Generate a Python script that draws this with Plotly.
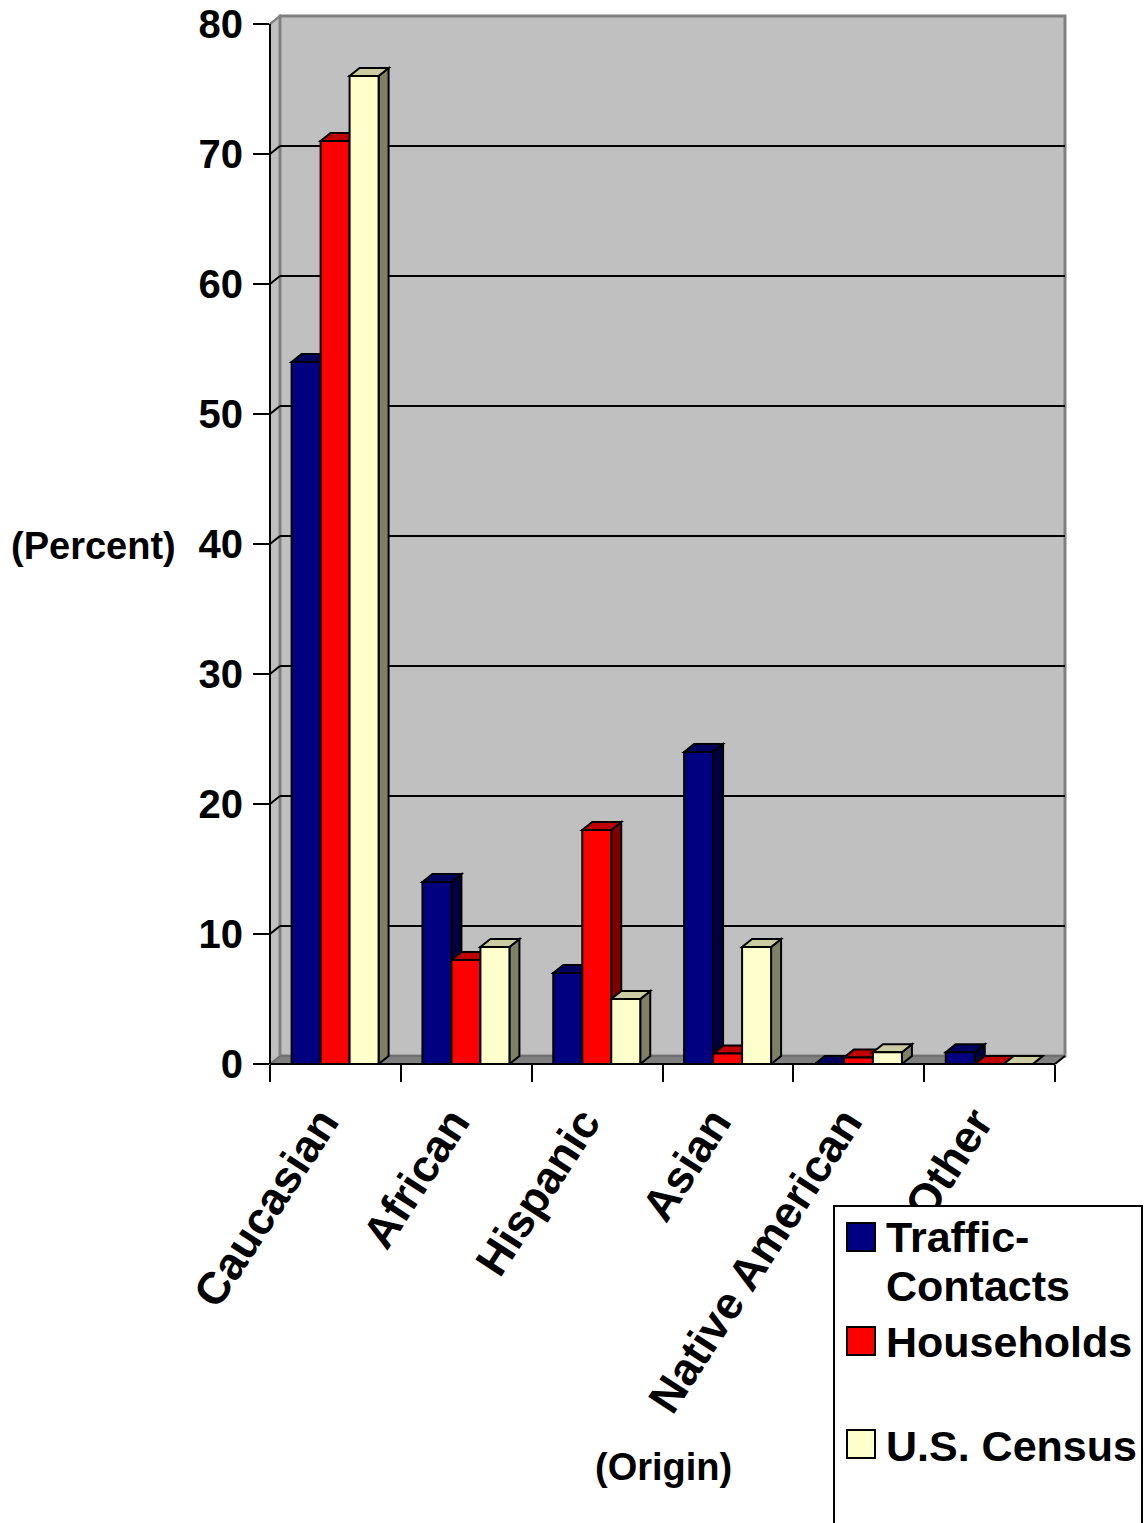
import plotly.graph_objects as go

# ---------------- data ----------------
categories = ["Caucasian", "African", "Hispanic", "Asian", "Native American", "Other"]
traffic_contacts = [54, 14, 7, 24, 0, 0.9]
households = [71, 8, 18, 0.8, 0.5, 0]
us_census = [76, 9, 5, 9, 0.9, 0]
series_names = ["Traffic-Contacts", "Households", "U.S. Census"]
y_tick_values = [0, 10, 20, 30, 40, 50, 60, 70, 80]
y_title = "(Percent)"
x_title = "(Origin)"

# ---------------- styling / geometry ----------------
FONT = "Arial, 'Liberation Sans', Helvetica, sans-serif"
W_PX, H_PX = 1144, 1523
L, R, T, B = 270, 79, 16, 459
PLOT_W = W_PX - L - R
PLOT_H = H_PX - T - B
CAT_PX = 785 / 6.0
PCT_PX = 1040 / 80.0
DX = 10 / CAT_PX          # 3D depth (x, data units)
DY = 8 / PCT_PX           # 3D depth (y, data units)
BAR_W = 29 / CAT_PX
OFF0 = -0.335
LABEL_SHIFT = -14 / CAT_PX
YMAX = 80
X_RANGE = [-0.5, len(categories) - 0.5 + DX]
Y_RANGE = [0, YMAX + DY]

front_colors = ["#000080", "#FF0000", "#FFFFCC"]
side_colors = ["#000040", "#800000", "#808066"]
top_colors = ["#00005E", "#C00000", "#CCCCA3"]
WALL = "#C0C0C0"
EDGE = "#808080"


def xp(x):  # data x -> paper
    return (x - X_RANGE[0]) / (X_RANGE[1] - X_RANGE[0])


def yp(y):  # data y -> paper
    return (y - Y_RANGE[0]) / (Y_RANGE[1] - Y_RANGE[0])


def pxx(px):  # pixel x -> paper
    return (px - L) / PLOT_W


def pxy(py):  # pixel y -> paper
    return (H_PX - B - py) / PLOT_H


def path(points):
    return "M " + " L ".join(f"{x},{y}" for x, y in points) + " Z"


series_values = [traffic_contacts, households, us_census]
x0 = X_RANGE[0]
x1 = len(categories) - 0.5

shapes = []
# side wall (paper coords, avoids clipping)
shapes.append(dict(type="path", xref="paper", yref="paper", layer="below",
                   path=path([(xp(x0), yp(0)), (xp(x0), yp(YMAX)), (xp(x0 + DX), yp(YMAX + DY)),
                              (xp(x0 + DX), yp(DY))]),
                   fillcolor=WALL, line=dict(color=EDGE, width=2)))
# back wall
shapes.append(dict(type="rect", xref="paper", yref="paper", layer="below",
                   x0=xp(x0 + DX), x1=xp(x1 + DX), y0=yp(DY), y1=yp(YMAX + DY),
                   fillcolor=WALL, line=dict(color=EDGE, width=3)))
# floor
shapes.append(dict(type="path", xref="paper", yref="paper", layer="below",
                   path=path([(xp(x0), yp(0)), (xp(x1), yp(0)), (xp(x1 + DX), yp(DY)),
                              (xp(x0 + DX), yp(DY))]),
                   fillcolor=EDGE, line=dict(color="#606060", width=1)))
# gridlines on back wall + side wall diagonals
for v in y_tick_values[1:]:
    col = "black" if v < YMAX else EDGE
    if v < YMAX:
        shapes.append(dict(type="line", xref="x", yref="y", layer="below",
                           x0=x0 + DX, x1=x1 + DX, y0=v + DY, y1=v + DY,
                           line=dict(color=col, width=2)))
    shapes.append(dict(type="line", xref="paper", yref="paper", layer="below",
                       x0=xp(x0), x1=xp(x0 + DX), y0=yp(v), y1=yp(v + DY),
                       line=dict(color=col, width=2)))
# bar side & top faces (drawn beneath the front faces of the bars)
for c in range(len(categories)):
    for i, vals in enumerate(series_values):
        v = vals[c]
        xl = c + OFF0 + i * BAR_W
        xr = xl + BAR_W
        shapes.append(dict(type="path", xref="x", yref="y", layer="below",
                           path=path([(xr, 0), (xr, v), (xr + DX, v + DY), (xr + DX, DY)]),
                           fillcolor=side_colors[i], line=dict(color="black", width=2)))
        shapes.append(dict(type="path", xref="x", yref="y", layer="below",
                           path=path([(xl, v), (xr, v), (xr + DX, v + DY), (xl + DX, v + DY)]),
                           fillcolor=top_colors[i], line=dict(color="black", width=2)))
# axis lines (front)
shapes.append(dict(type="line", xref="paper", yref="paper", layer="above",
                   x0=xp(x0), x1=xp(x0), y0=yp(0), y1=yp(YMAX), line=dict(color="black", width=2)))
shapes.append(dict(type="line", xref="paper", yref="paper", layer="above",
                   x0=xp(x0), x1=xp(x1), y0=yp(0), y1=yp(0), line=dict(color="black", width=2)))
shapes.append(dict(type="line", xref="paper", yref="paper", layer="above",
                   x0=xp(x1), x1=xp(x1 + DX), y0=yp(0), y1=yp(DY), line=dict(color="black", width=2)))

# ---------------- manual legend ----------------
LEG_FONT = 43
shapes.append(dict(type="rect", xref="paper", yref="paper", layer="above",
                   x0=pxx(834), x1=pxx(1142), y0=pxy(1535), y1=pxy(1206),
                   fillcolor="white", line=dict(color="black", width=2)))
swatch_tops = [1223, 1327, 1430]
for i, top in enumerate(swatch_tops):
    shapes.append(dict(type="rect", xref="paper", yref="paper", layer="above",
                       x0=pxx(847), x1=pxx(875), y0=pxy(top + 28), y1=pxy(top),
                       fillcolor=front_colors[i], line=dict(color="black", width=2)))
legend_lines = [("Traffic-", 1237), ("Contacts", 1286), ("Households", 1342), ("U.S. Census", 1446)]
annotations = []
for txt, yc in legend_lines:
    annotations.append(dict(text=f"<b>{txt}</b>", xref="paper", yref="paper",
                            x=pxx(884), y=pxy(yc), xanchor="left", yanchor="middle",
                            showarrow=False, font=dict(family=FONT, size=LEG_FONT, color="black")))

annotations.append(dict(text=f"<b>{y_title}</b>", xref="paper", yref="paper",
                        x=pxx(93), y=pxy(546), xanchor="center", yanchor="middle",
                        showarrow=False, font=dict(family=FONT, size=38, color="black")))
annotations.append(dict(text=f"<b>{x_title}</b>", xref="paper", yref="paper",
                        x=pxx(663), y=pxy(1467), xanchor="center", yanchor="middle",
                        showarrow=False, font=dict(family=FONT, size=38, color="black")))

# ---------------- traces ----------------
fig = go.Figure()
for i, (name, vals) in enumerate(zip(series_names, series_values)):
    fig.add_trace(go.Bar(
        x=list(range(len(categories))), y=vals, name=name,
        width=BAR_W, offset=OFF0 + i * BAR_W,
        marker=dict(color=front_colors[i], line=dict(color="black", width=2)),
        showlegend=False,
    ))

fig.update_layout(
    width=W_PX, height=H_PX,
    margin=dict(l=L, r=R, t=T, b=B, pad=0, autoexpand=False),
    paper_bgcolor="white", plot_bgcolor="rgba(0,0,0,0)",
    barmode="overlay",
    shapes=shapes, annotations=annotations,
    font=dict(family=FONT, color="black"),
    xaxis=dict(
        range=X_RANGE, showgrid=False, zeroline=False, showline=False, automargin=False,
        tickmode="array", tickvals=[c + LABEL_SHIFT for c in range(len(categories))],
        ticktext=categories,
        ticks="", tickangle=-57, ticklabelstandoff=22,
        tickfont=dict(family=FONT, size=45, color="black", weight="bold"),
        minor=dict(tickmode="array", tickvals=[c - 0.5 for c in range(len(categories) + 1)],
                   ticks="outside", ticklen=17, tickwidth=2, tickcolor="black", showgrid=False),
    ),
    yaxis=dict(
        range=Y_RANGE, showgrid=False, zeroline=False, showline=False, automargin=False,
        tickmode="array", tickvals=y_tick_values,
        ticks="outside", ticklen=16, tickwidth=2, tickcolor="black", ticklabelstandoff=2,
        tickfont=dict(family=FONT, size=40, color="black", weight="bold"),
    ),
)

fig.write_html("out.html")
